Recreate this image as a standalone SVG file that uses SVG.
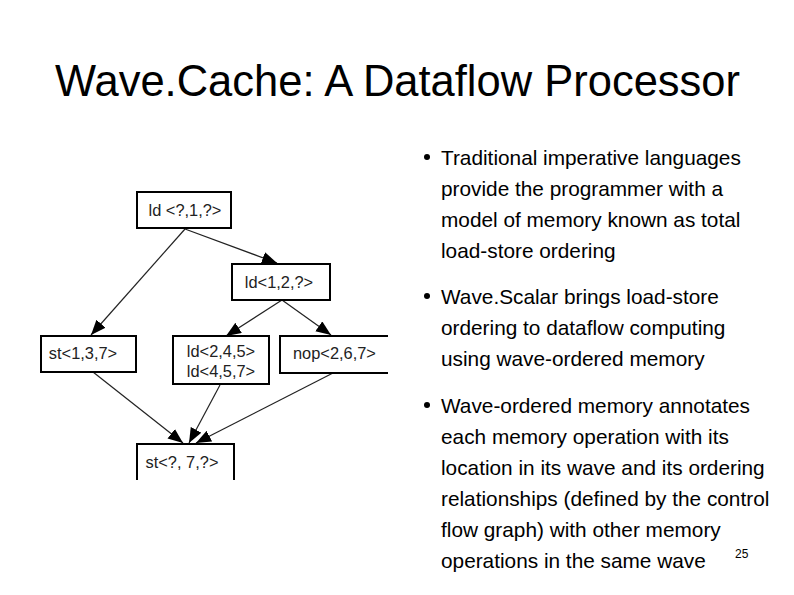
<svg xmlns="http://www.w3.org/2000/svg" width="794" height="595" viewBox="0 0 794 595">
<style>
.title{font-family:"Liberation Sans",Arial,sans-serif;font-size:43.5px;fill:#000}
.body{font-family:"Liberation Sans",Arial,sans-serif;font-size:20.8px;fill:#000}
.lbl{font-family:"Liberation Sans",Arial,sans-serif;font-size:16.4px;fill:#222}
.box{fill:#fff;stroke:#000;stroke-width:2}
.edge{stroke:#222;stroke-width:1.2;fill:none;marker-end:url(#ah)}
.pg{font-family:"Liberation Sans",Arial,sans-serif;font-size:12px;fill:#000}
</style>
<defs>
<marker id="ah" markerUnits="userSpaceOnUse" markerWidth="16" markerHeight="13" refX="15" refY="6" orient="auto">
<path d="M0,0 L15,6 L0,12 z" fill="#000"/>
</marker>
<clipPath id="clip"><rect x="0" y="0" width="388" height="480"/></clipPath>
</defs>
<rect width="794" height="595" fill="#fff"/>
<text class="title" x="55" y="96">Wave.Cache: A Dataflow Processor</text>
<g clip-path="url(#clip)">
<g id="connectors">
<line class="edge" x1="185" y1="229" x2="91" y2="335"/>
<line class="edge" x1="185" y1="229" x2="277" y2="263"/>
<line class="edge" x1="282" y1="300" x2="226" y2="336"/>
<line class="edge" x1="282" y1="300" x2="331" y2="335"/>
<line class="edge" x1="93" y1="372" x2="183" y2="443"/>
<line class="edge" x1="220" y1="385" x2="189" y2="443"/>
<line class="edge" x1="333" y1="373" x2="196" y2="443"/>
</g>
<g id="n1"><rect class="box" x="137" y="192" width="94" height="36"/><text class="lbl" x="185" y="216" text-anchor="middle">ld &lt;?,1,?&gt;</text></g>
<g id="n2"><rect class="box" x="232" y="264" width="98" height="36"/><text class="lbl" x="279" y="288" text-anchor="middle">ld&lt;1,2,?&gt;</text></g>
<g id="n3"><rect class="box" x="173" y="336" width="96" height="48"/><text class="lbl" x="221" y="357" text-anchor="middle">ld&lt;2,4,5&gt;</text><text class="lbl" x="221" y="377" text-anchor="middle">ld&lt;4,5,7&gt;</text></g>
<g id="n4"><rect class="box" x="280" y="336" width="120" height="37"/><text class="lbl" x="293" y="359">nop&lt;2,6,7&gt;</text></g>
<g id="n5"><rect class="box" x="41" y="336" width="95" height="36"/><text class="lbl" x="83" y="359" text-anchor="middle">st&lt;1,3,7&gt;</text></g>
<g id="n6"><rect class="box" x="137" y="444" width="97" height="50"/><text class="lbl" x="182" y="468" text-anchor="middle">st&lt;?, 7,?&gt;</text></g>
</g>
<g id="bullets">
<circle cx="427" cy="157" r="3"/>
<circle cx="427" cy="296" r="3"/>
<circle cx="427" cy="405" r="3"/>
<text class="body" x="441" y="165">Traditional imperative languages</text>
<text class="body" x="441" y="196">provide the programmer with a</text>
<text class="body" x="441" y="227">model of memory known as total</text>
<text class="body" x="441" y="258">load-store ordering</text>
<text class="body" x="441" y="304">Wave.Scalar brings load-store</text>
<text class="body" x="441" y="335">ordering to dataflow computing</text>
<text class="body" x="441" y="366">using wave-ordered memory</text>
<text class="body" x="441" y="413">Wave-ordered memory annotates</text>
<text class="body" x="441" y="444">each memory operation with its</text>
<text class="body" x="441" y="475">location in its wave and its ordering</text>
<text class="body" x="441" y="506">relationships (defined by the control</text>
<text class="body" x="441" y="537">flow graph) with other memory</text>
<text class="body" x="441" y="568">operations in the same wave</text>
</g>
<text class="pg" x="735" y="558">25</text>
</svg>
